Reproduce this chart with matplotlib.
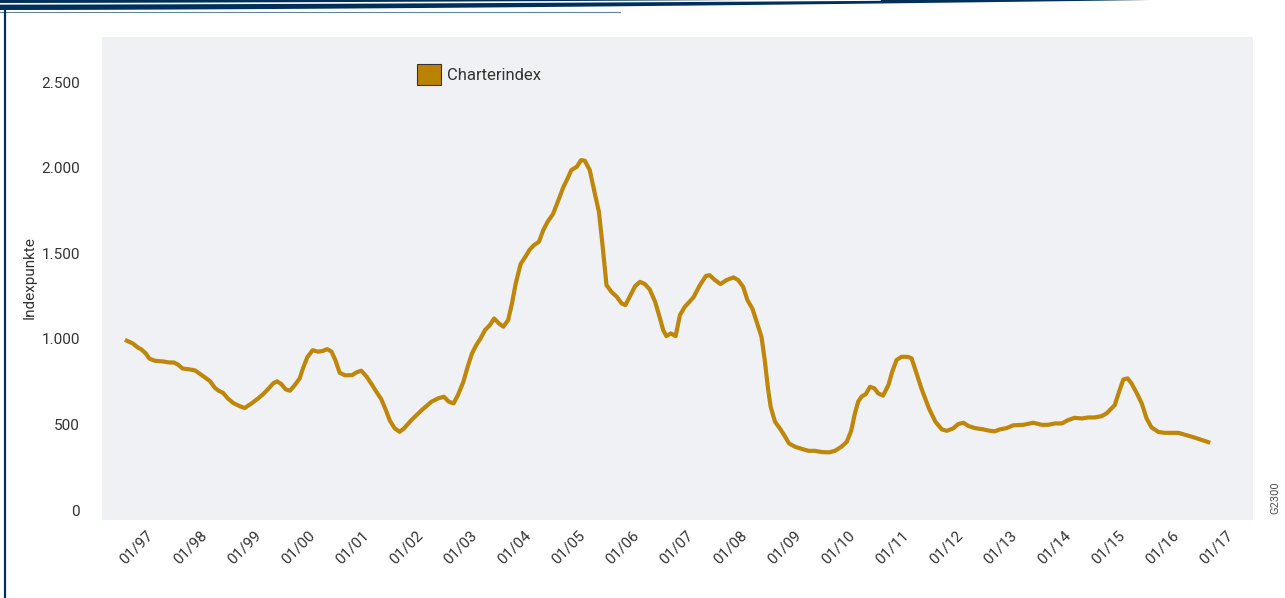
"""
Charterindex 1997-2016 - line chart with corporate header.
"""

import numpy as np
import matplotlib
matplotlib.use("Agg")
import matplotlib.pyplot as plt
from matplotlib.patches import Patch, Polygon

# data: time in decimal years, value in index points
years = [
    1996.65, 1996.76, 1996.85, 1996.92, 1997.00, 1997.07, 1997.17, 1997.32, 1997.44, 1997.52,
    1997.60, 1997.68, 1997.80, 1997.91, 1998.02, 1998.19, 1998.28, 1998.35, 1998.43, 1998.52,
    1998.62, 1998.74, 1998.83, 1998.96, 1999.08, 1999.17, 1999.26, 1999.36, 1999.43, 1999.51,
    1999.59, 1999.67, 1999.76, 1999.85, 1999.91, 1999.99, 2000.09, 2000.19, 2000.28, 2000.36,
    2000.44, 2000.51, 2000.59, 2000.69, 2000.82, 2000.90, 2000.99, 2001.09, 2001.18, 2001.27,
    2001.36, 2001.44, 2001.52, 2001.61, 2001.70, 2001.78, 2001.92, 2002.11, 2002.29, 2002.41,
    2002.52, 2002.61, 2002.70, 2002.78, 2002.88, 2002.96, 2003.04, 2003.12, 2003.20, 2003.28,
    2003.37, 2003.45, 2003.54, 2003.62, 2003.71, 2003.78, 2003.85, 2003.94, 2004.03, 2004.11,
    2004.19, 2004.28, 2004.36, 2004.44, 2004.54, 2004.64, 2004.73, 2004.81, 2004.88, 2004.98,
    2005.06, 2005.13, 2005.22, 2005.30, 2005.39, 2005.46, 2005.53, 2005.62, 2005.72, 2005.81,
    2005.88, 2005.96, 2006.06, 2006.15, 2006.24, 2006.33, 2006.43, 2006.52, 2006.58, 2006.64,
    2006.72, 2006.81, 2006.89, 2006.98, 2007.14, 2007.26, 2007.37, 2007.44, 2007.54, 2007.64,
    2007.75, 2007.88, 2007.97, 2008.06, 2008.14, 2008.23, 2008.33, 2008.40, 2008.46, 2008.52,
    2008.57, 2008.65, 2008.74, 2008.82, 2008.91, 2009.02, 2009.14, 2009.27, 2009.39, 2009.51,
    2009.65, 2009.76, 2009.88, 2009.98, 2010.06, 2010.13, 2010.19, 2010.25, 2010.33, 2010.41,
    2010.49, 2010.56, 2010.65, 2010.75, 2010.82, 2010.90, 2010.99, 2011.11, 2011.18, 2011.27,
    2011.36, 2011.50, 2011.62, 2011.74, 2011.83, 2011.95, 2012.04, 2012.14, 2012.23, 2012.35,
    2012.51, 2012.63, 2012.72, 2012.81, 2012.94, 2013.06, 2013.25, 2013.43, 2013.59, 2013.71,
    2013.83, 2013.96, 2014.08, 2014.20, 2014.33, 2014.45, 2014.57, 2014.70, 2014.79, 2014.94,
    2015.02, 2015.10, 2015.18, 2015.25, 2015.35, 2015.44, 2015.53, 2015.62, 2015.75, 2015.87,
    2015.99, 2016.12, 2016.24, 2016.37, 2016.49, 2016.67,
]
index_values = [
    989, 973, 950, 938, 915, 884, 872, 868, 862, 862,
    849, 827, 822, 816, 792, 753, 714, 697, 685, 652,
    625, 607, 596, 623, 652, 676, 705, 740, 752, 736,
    705, 697, 730, 769, 827, 892, 934, 925, 930, 940,
    925, 876, 802, 787, 788, 804, 814, 779, 736, 691,
    648, 588, 522, 477, 457, 477, 526, 584, 633, 652,
    662, 633, 623, 672, 749, 837, 915, 964, 1003, 1051,
    1080, 1119, 1090, 1071, 1110, 1207, 1324, 1437, 1480, 1522,
    1548, 1567, 1635, 1684, 1729, 1810, 1885, 1937, 1986, 2005,
    2044, 2040, 1986, 1869, 1742, 1538, 1314, 1275, 1246, 1207,
    1197, 1246, 1308, 1333, 1320, 1289, 1217, 1120, 1051, 1016,
    1032, 1016, 1139, 1187, 1242, 1314, 1367, 1372, 1343, 1320,
    1343, 1359, 1343, 1304, 1226, 1178, 1080, 1012, 876, 711,
    603, 516, 477, 438, 389, 370, 358, 346, 346, 339,
    337, 346, 370, 399, 463, 565, 633, 662, 677, 720,
    711, 682, 668, 730, 808, 876, 895, 895, 886, 798,
    711, 594, 516, 471, 463, 477, 502, 510, 491, 479,
    471, 463, 460, 471, 479, 495, 498, 510, 498, 498,
    506, 506, 526, 539, 535, 541, 541, 549, 565, 613,
    691, 763, 769, 740, 682, 623, 535, 483, 456, 451,
    451, 451, 440, 428, 416, 397,
]
tick_years = list(range(1997, 2018))
tick_labels = [f"01/{y % 100:02d}" for y in tick_years]
y_ticks = [0, 500, 1000, 1500, 2000, 2500]
y_tick_labels = ["0", "500", "1.000", "1.500", "2.000", "2.500"]

LINE_COLOR = "#be870a"
NAVY = "#00305a"
TEXT = "#333333"
W, H = 1285, 598

plt.rcParams["font.family"] = ["Liberation Sans Narrow", "Roboto", "DejaVu Sans"]

fig = plt.figure(figsize=(W / 100, H / 100), dpi=100)
fig.patch.set_facecolor("white")

# decorative header / border drawn in pixel coordinates
deco = fig.add_axes([0, 0, 1, 1])
deco.set_xlim(0, W)
deco.set_ylim(H, 0)
deco.axis("off")
xs = np.linspace(0, 1150, 60)
lower = 10 * (1 - (xs / 1150) ** 1.6)
deco.add_patch(Polygon(np.column_stack([np.r_[xs, xs[::-1]], np.r_[lower, np.zeros_like(xs)]]),
                       closed=True, color=NAVY, lw=0))
xw = np.linspace(0, 880, 40)
deco.plot(xw, 3.8 * (1 - (xw / 880) ** 1.5), color="white", lw=1.2)
deco.plot([0, 620], [11.5, 11.5], color=NAVY, lw=0.8, alpha=0.6)
deco.plot([5, 5], [9, H], color=NAVY, lw=1.6)

# chart
ax = fig.add_axes([102 / W, 1 - 520 / H, (1253 - 102) / W, (520 - 37) / H])
ax.set_facecolor("#f0f1f5")
ax.plot(years, index_values, color=LINE_COLOR, lw=3.0, solid_joinstyle="round")

ax.set_xlim(1996.19, 2017.5)
ax.set_ylim(-58, 2763)
ax.set_xticks(tick_years)
ax.set_xticklabels(tick_labels, rotation=45, ha="right", rotation_mode="anchor",
                   fontsize=11, color=TEXT)
ax.set_yticks(y_ticks)
ax.set_yticklabels(y_tick_labels, fontsize=11, color=TEXT)
ax.tick_params(axis="both", length=0)
ax.tick_params(axis="y", pad=16)
ax.tick_params(axis="x", pad=6)
for spine in ax.spines.values():
    spine.set_visible(False)

fig.text(30 / W, 1 - 278 / H, "Indexpunkte", rotation=90, ha="center", va="center",
         fontsize=11, color=TEXT)
fig.text(1275 / W, 1 - 498 / H, "G2300", rotation=90, ha="center", va="center",
         fontsize=8, color="#555555")

handle = Patch(facecolor="#b98300", edgecolor="#333333", lw=0.8)
ax.legend([handle], ["Charterindex"], loc="upper left", bbox_to_anchor=(0.274, 0.945),
          frameon=False, fontsize=12, handlelength=1.4, handleheight=1.6,
          handletextpad=0.35, borderpad=0, borderaxespad=0, labelcolor=TEXT)

fig.savefig("out.png", dpi=100, facecolor=fig.get_facecolor())
